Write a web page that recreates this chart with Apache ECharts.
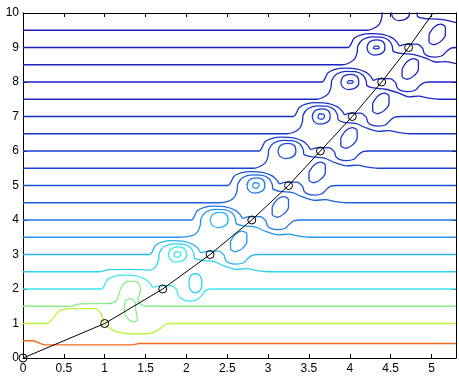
<!DOCTYPE html>
<html>
<head>
<meta charset="utf-8">
<script src="https://cdn.jsdelivr.net/npm/echarts/dist/echarts.min.js"></script>
<style>
  html, body { margin: 0; padding: 0; background: #fff; }
  #chart { width: 459px; height: 376px; }
</style>
</head>
<body>
<div id="chart"></div>
<script>
// contour levels and their colours
const levels = [0.4, 1, 1.5, 2, 2.5, 3, 3.5, 4, 4.5, 5, 5.5, 6, 6.5, 7, 7.5, 8, 8.5, 9, 9.5];
const levelColors = ['#f36b1f', '#b9f23c', '#88ee88', '#3ee8ee', '#30d2f2', '#2ab4f2', '#2496ee', '#1f78e6',
  '#1c60de', '#1a50d8', '#1944d2', '#1a3ccf', '#1b36cc', '#1b30c9', '#1b2bc6', '#1b27c4', '#1b24c2', '#1b21c0', '#1b1ebe'];

// tick labels
const xTicks = ['0', '0.5', '1', '1.5', '2', '2.5', '3', '3.5', '4', '4.5', '5'];
const yTicks = ['0', '1', '2', '3', '4', '5', '6', '7', '8', '9', '10'];

// level lines
const lv04 = [[0,0.5],[0.12,0.5],[0.27,0.38],[1.35,0.38],[1.42,0.42],[5.3,0.42]];
const lv10 = [[0,1],[0.29,1],[0.45,1.37],[0.6,1.43],[0.88,1.43],[0.95,1.3],[1.0,1.0],[1.08,0.83],[1.18,0.74],[1.3,0.7],[1.55,0.71],[1.66,0.82],[1.74,0.97],[1.8,1.0],[5.3,1]];
const lv15 = [[0,1.5],[0.57,1.5],[0.7,1.57],[1.05,1.58],[1.14,1.66],[1.18,1.9],[1.22,2.12],[1.3,2.23],[1.4,2.2],[1.44,1.98],[1.41,1.72],[1.44,1.56],[1.55,1.5],[5.3,1.5]];
const lv20 = [[0,2],[0.96,2],[1.0,2.12],[1.03,2.26],[1.11,2.36],[1.24,2.4],[1.38,2.38],[1.5,2.28],[1.56,2.15],[1.59,2.05],[1.66,2.09],[1.81,2.1],[1.88,1.98],[1.9,1.82],[1.95,1.7],[2.04,1.65],[2.13,1.69],[2.19,1.82],[2.24,1.96],[2.32,2],[5.3,2]];
const lv25 = [[0,2.5],[0.94,2.5],[1.05,2.56],[1.3,2.57],[1.56,2.55],[1.63,2.67],[1.66,2.85],[1.67,3.05],[1.73,3.23],[1.84,3.31],[1.96,3.3],[2.05,3.2],[2.09,3.04],[2.1,2.9],[2.19,2.83],[2.34,2.79],[2.47,2.66],[2.61,2.57],[2.74,2.59],[2.87,2.53],[2.99,2.5],[5.3,2.5]];
const lv30 = [[0,3],[1.55,3],[1.59,3.12],[1.62,3.26],[1.7,3.36],[1.83,3.4],[1.97,3.38],[2.09,3.28],[2.15,3.15],[2.18,3.05],[2.24,3.09],[2.39,3.1],[2.46,2.98],[2.48,2.84],[2.53,2.75],[2.61,2.72],[2.7,2.76],[2.75,2.88],[2.81,2.98],[2.89,3],[5.3,3]];
const lv35 = [[0,3.5],[1.89,3.5],[2.07,3.55],[2.14,3.67],[2.17,3.85],[2.18,4.05],[2.24,4.23],[2.35,4.31],[2.47,4.3],[2.56,4.2],[2.6,4.04],[2.61,3.9],[2.7,3.83],[2.85,3.79],[2.98,3.66],[3.12,3.57],[3.25,3.59],[3.38,3.53],[3.5,3.5],[5.3,3.5]];
const lv40 = [[0,4],[2.06,4],[2.1,4.12],[2.13,4.26],[2.21,4.36],[2.34,4.4],[2.48,4.38],[2.6,4.28],[2.66,4.15],[2.69,4.05],[2.75,4.09],[2.9,4.1],[2.97,3.98],[2.99,3.84],[3.04,3.75],[3.12,3.72],[3.21,3.76],[3.26,3.88],[3.32,3.98],[3.4,4],[5.3,4]];
const lv45 = [[0,4.5],[2.4,4.5],[2.52,4.55],[2.59,4.67],[2.62,4.85],[2.63,5.05],[2.69,5.23],[2.8,5.31],[2.92,5.3],[3.01,5.2],[3.05,5.04],[3.06,4.9],[3.15,4.83],[3.3,4.79],[3.43,4.66],[3.57,4.57],[3.7,4.59],[3.83,4.53],[3.95,4.5],[5.3,4.5]];
const lv50 = [[0,5],[2.51,5],[2.55,5.12],[2.58,5.26],[2.66,5.36],[2.79,5.4],[2.93,5.38],[3.05,5.28],[3.11,5.15],[3.14,5.05],[3.2,5.09],[3.35,5.1],[3.42,4.98],[3.44,4.84],[3.49,4.75],[3.57,4.72],[3.66,4.76],[3.71,4.88],[3.77,4.98],[3.85,5],[5.3,5]];
const lv55 = [[0,5.5],[2.83,5.5],[2.9,5.55],[2.97,5.67],[3.0,5.85],[3.01,6.05],[3.07,6.23],[3.18,6.31],[3.3,6.3],[3.39,6.2],[3.43,6.04],[3.44,5.9],[3.54,5.83],[3.69,5.79],[3.82,5.66],[3.96,5.57],[4.09,5.59],[4.22,5.53],[4.34,5.5],[5.3,5.5]];
const lv60 = [[0,6],[2.89,6],[2.93,6.12],[2.96,6.26],[3.04,6.36],[3.17,6.4],[3.31,6.38],[3.43,6.28],[3.49,6.15],[3.52,6.05],[3.59,6.09],[3.74,6.1],[3.81,5.98],[3.83,5.84],[3.88,5.75],[3.96,5.72],[4.05,5.76],[4.1,5.88],[4.16,5.98],[4.24,6],[5.3,6]];
const lv65 = [[0,6.5],[3.23,6.5],[3.32,6.55],[3.39,6.67],[3.42,6.85],[3.43,7.05],[3.49,7.23],[3.6,7.31],[3.72,7.3],[3.81,7.2],[3.85,7.04],[3.86,6.9],[3.93,6.83],[4.08,6.79],[4.21,6.66],[4.35,6.57],[4.48,6.59],[4.61,6.53],[4.73,6.5],[5.3,6.5]];
const lv70 = [[0,7],[3.31,7],[3.35,7.12],[3.38,7.26],[3.46,7.36],[3.59,7.4],[3.73,7.38],[3.85,7.28],[3.91,7.15],[3.94,7.05],[3.98,7.09],[4.13,7.1],[4.2,6.98],[4.22,6.84],[4.27,6.75],[4.35,6.72],[4.44,6.76],[4.49,6.88],[4.55,6.98],[4.63,7],[5.3,7]];
const lv75 = [[0,7.5],[3.6,7.5],[3.67,7.55],[3.74,7.67],[3.77,7.85],[3.78,8.05],[3.84,8.23],[3.95,8.31],[4.07,8.3],[4.16,8.2],[4.2,8.04],[4.21,7.9],[4.29,7.83],[4.44,7.79],[4.6,7.68],[4.72,7.57],[4.84,7.59],[4.97,7.53],[5.09,7.5],[5.3,7.5]];
const lv80 = [[0,8],[3.66,8],[3.7,8.12],[3.73,8.26],[3.81,8.36],[3.94,8.4],[4.08,8.38],[4.2,8.28],[4.26,8.15],[4.29,8.05],[4.34,8.09],[4.49,8.1],[4.56,7.98],[4.58,7.84],[4.63,7.75],[4.71,7.72],[4.8,7.76],[4.85,7.88],[4.91,7.98],[4.99,8],[5.3,8]];
const lv85 = [[0,8.5],[3.92,8.5],[3.99,8.55],[4.06,8.67],[4.09,8.85],[4.1,9.05],[4.16,9.23],[4.27,9.31],[4.39,9.3],[4.48,9.2],[4.52,9.04],[4.53,8.9],[4.62,8.83],[4.77,8.8],[4.93,8.69],[5.05,8.58],[5.17,8.59],[5.3,8.53]];
const lv90 = [[0,9],[3.98,9],[4.02,9.12],[4.05,9.26],[4.13,9.36],[4.26,9.4],[4.4,9.38],[4.52,9.28],[4.58,9.15],[4.61,9.05],[4.67,9.09],[4.82,9.1],[4.89,8.98],[4.91,8.84],[4.96,8.75],[5.04,8.72],[5.13,8.76],[5.18,8.88],[5.24,8.98],[5.3,9]];
const lv95 = [[0,9.5],[4.22,9.5],[4.29,9.55],[4.36,9.67],[4.39,9.85],[4.4,10.05],[4.46,10.23],[4.57,10.31],[4.69,10.3],[4.78,10.2],[4.82,10.04],[4.83,9.9],[4.92,9.84],[5.07,9.82],[5.2,9.78],[5.3,9.72]];

// closed loops left of the path
const tongue2 = [[1.25,1.66],[1.24,1.4],[1.28,1.15],[1.35,1.05],[1.4,1.1],[1.38,1.4],[1.37,1.62],[1.31,1.72],[1.25,1.66]];
const ringB3 = [[1.78,3],[1.81,3.16],[1.9,3.22],[1.98,3.16],[2.0,2.98],[1.96,2.83],[1.87,2.78],[1.8,2.86],[1.78,3]];
const ringC3 = [[1.85,3],[1.87,3.08],[1.92,3.07],[1.93,2.99],[1.9,2.92],[1.86,2.94],[1.85,3]];
const ringB4 = [[2.29,4],[2.32,4.16],[2.41,4.22],[2.49,4.16],[2.51,3.98],[2.47,3.83],[2.38,3.78],[2.31,3.86],[2.29,4]];
const ringB5 = [[2.74,5],[2.77,5.16],[2.86,5.22],[2.94,5.16],[2.96,4.98],[2.92,4.83],[2.83,4.78],[2.76,4.86],[2.74,5]];
const ringC5 = [[2.81,5],[2.83,5.08],[2.88,5.07],[2.89,4.99],[2.86,4.92],[2.82,4.94],[2.81,5]];
const ringB6 = [[3.12,6],[3.15,6.16],[3.24,6.22],[3.32,6.16],[3.34,5.98],[3.3,5.83],[3.21,5.78],[3.14,5.86],[3.12,6]];
const ringB7 = [[3.54,7],[3.57,7.16],[3.66,7.22],[3.74,7.16],[3.76,6.98],[3.72,6.83],[3.63,6.78],[3.56,6.86],[3.54,7]];
const ringC7 = [[3.61,7],[3.63,7.08],[3.68,7.07],[3.69,6.99],[3.66,6.92],[3.62,6.94],[3.61,7]];
const ringB8 = [[3.89,8],[3.92,8.16],[4.01,8.22],[4.09,8.16],[4.11,7.98],[4.07,7.83],[3.98,7.78],[3.91,7.86],[3.89,8]];
const ringC8 = [[3.97,8],[3.99,8.04],[4.03,8.04],[4.04,7.99],[4.0,7.96],[3.97,7.97],[3.97,8]];
const ringB9 = [[4.21,9],[4.24,9.16],[4.33,9.22],[4.41,9.16],[4.43,8.98],[4.39,8.83],[4.3,8.78],[4.23,8.86],[4.21,9]];
const ringC9 = [[4.29,9],[4.31,9.04],[4.35,9.04],[4.36,8.99],[4.32,8.96],[4.29,8.97],[4.29,9]];
const ringB10 = [[4.51,10],[4.54,10.16],[4.63,10.22],[4.71,10.16],[4.73,9.98],[4.69,9.83],[4.6,9.78],[4.53,9.86],[4.51,10]];

// closed lobes right of the path
const lobe2 = [[2.03,2.17],[2.05,2.37],[2.11,2.45],[2.17,2.37],[2.19,2.17],[2.17,1.97],[2.11,1.89],[2.05,1.97],[2.03,2.17]];
const lobe3 = [[2.54,3.38],[2.6,3.59],[2.68,3.68],[2.74,3.59],[2.74,3.38],[2.68,3.17],[2.6,3.08],[2.54,3.17],[2.54,3.38]];
const lobe4 = [[3.05,4.38],[3.11,4.59],[3.19,4.68],[3.25,4.59],[3.25,4.38],[3.19,4.17],[3.11,4.08],[3.05,4.17],[3.05,4.38]];
const lobe5 = [[3.5,5.38],[3.56,5.59],[3.64,5.68],[3.7,5.59],[3.7,5.38],[3.64,5.17],[3.56,5.08],[3.5,5.17],[3.5,5.38]];
const lobe6 = [[3.89,6.38],[3.95,6.59],[4.03,6.68],[4.09,6.59],[4.09,6.38],[4.03,6.17],[3.95,6.08],[3.89,6.17],[3.89,6.38]];
const lobe7 = [[4.28,7.38],[4.34,7.59],[4.42,7.68],[4.48,7.59],[4.48,7.38],[4.42,7.17],[4.34,7.08],[4.28,7.17],[4.28,7.38]];
const lobe8 = [[4.64,8.38],[4.7,8.59],[4.78,8.68],[4.84,8.59],[4.84,8.38],[4.78,8.17],[4.7,8.08],[4.64,8.17],[4.64,8.38]];
const lobe9 = [[4.97,9.38],[5.03,9.59],[5.11,9.68],[5.17,9.59],[5.17,9.38],[5.11,9.17],[5.03,9.08],[4.97,9.17],[4.97,9.38]];

// path with circle markers
const pathX = [0, 1, 1.71, 2.29, 2.8, 3.25, 3.64, 4.03, 4.39, 4.72, 5.02];
const pathY = [0, 1, 2, 3, 4, 5, 6, 7, 8, 9, 10];

function colorOf(lv) {
  return levelColors[levels.indexOf(lv)];
}

// which piece gets which level colour
const pieces = [
  [lv04, 0.4], [lv10, 1], [lv15, 1.5], [lv20, 2], [lv25, 2.5], [lv30, 3], [lv35, 3.5], [lv40, 4], [lv45, 4.5],
  [lv50, 5], [lv55, 5.5], [lv60, 6], [lv65, 6.5], [lv70, 7], [lv75, 7.5], [lv80, 8], [lv85, 8.5], [lv90, 9], [lv95, 9.5],
  [tongue2, 1.5],
  [ringB3, 2], [ringC3, 2], [ringB4, 3], [ringB5, 4], [ringC5, 3.5], [ringB6, 5],
  [ringB7, 6], [ringC7, 5.5], [ringB8, 7], [ringC8, 6.5], [ringB9, 8], [ringC9, 7.5], [ringB10, 9],
  [lobe2, 2.5], [lobe3, 3.5], [lobe4, 4.5], [lobe5, 5.5], [lobe6, 6.5], [lobe7, 7.5], [lobe8, 8.5], [lobe9, 9.5]
];

let chart = echarts.init(document.getElementById('chart'));

let series = pieces.map(function (p) {
  return {
    type: 'line',
    data: p[0],
    symbol: 'none',
    smooth: 0.3,
    silent: true,
    lineStyle: { color: colorOf(p[1]), width: 1.3 },
    z: 2
  };
});

let pathData = pathX.map(function (x, i) {
  let item = { value: [x, pathY[i]] };
  if (i === pathX.length - 1) item.symbol = 'none';
  return item;
});

series.push({
  type: 'line',
  data: pathData,
  symbol: 'circle',
  symbolSize: 8,
  showAllSymbol: true,
  silent: true,
  lineStyle: { color: '#000', width: 1 },
  itemStyle: { color: 'transparent', borderColor: '#000', borderWidth: 1 },
  z: 5
});

const fontFam = 'Liberation Sans, Arial, sans-serif';
const axisBase = {
  axisLine: { onZero: false, lineStyle: { color: '#000', width: 1 } },
  axisTick: { inside: true, length: 4, lineStyle: { color: '#000' } },
  splitLine: { show: false }
};

let option = {
  animation: false,
  backgroundColor: '#fff',
  grid: { left: 23, right: 1, top: 13, bottom: 18 },
  xAxis: [
    Object.assign({
      type: 'value', min: 0, max: 5.3, interval: 0.5, position: 'bottom',
      axisLabel: {
        color: '#000', fontSize: 12, fontFamily: fontFam, margin: 5,
        formatter: function (v) {
          let i = Math.round(v / 0.5);
          return Math.abs(v - i * 0.5) < 1e-6 && i < xTicks.length ? xTicks[i] : '';
        }
      }
    }, axisBase),
    Object.assign({
      type: 'value', min: 0, max: 5.3, interval: 0.5, position: 'top',
      axisLabel: { show: false }
    }, axisBase)
  ],
  yAxis: [
    Object.assign({
      type: 'value', min: 0, max: 10, interval: 1, position: 'left',
      axisLabel: {
        color: '#000', fontSize: 12, fontFamily: fontFam, margin: 4,
        formatter: function (v) { return yTicks[Math.round(v)]; }
      }
    }, axisBase),
    Object.assign({
      type: 'value', min: 0, max: 10, interval: 1, position: 'right',
      axisLabel: { show: false }
    }, axisBase)
  ],
  series: series
};

chart.setOption(option);
</script>
</body>
</html>
